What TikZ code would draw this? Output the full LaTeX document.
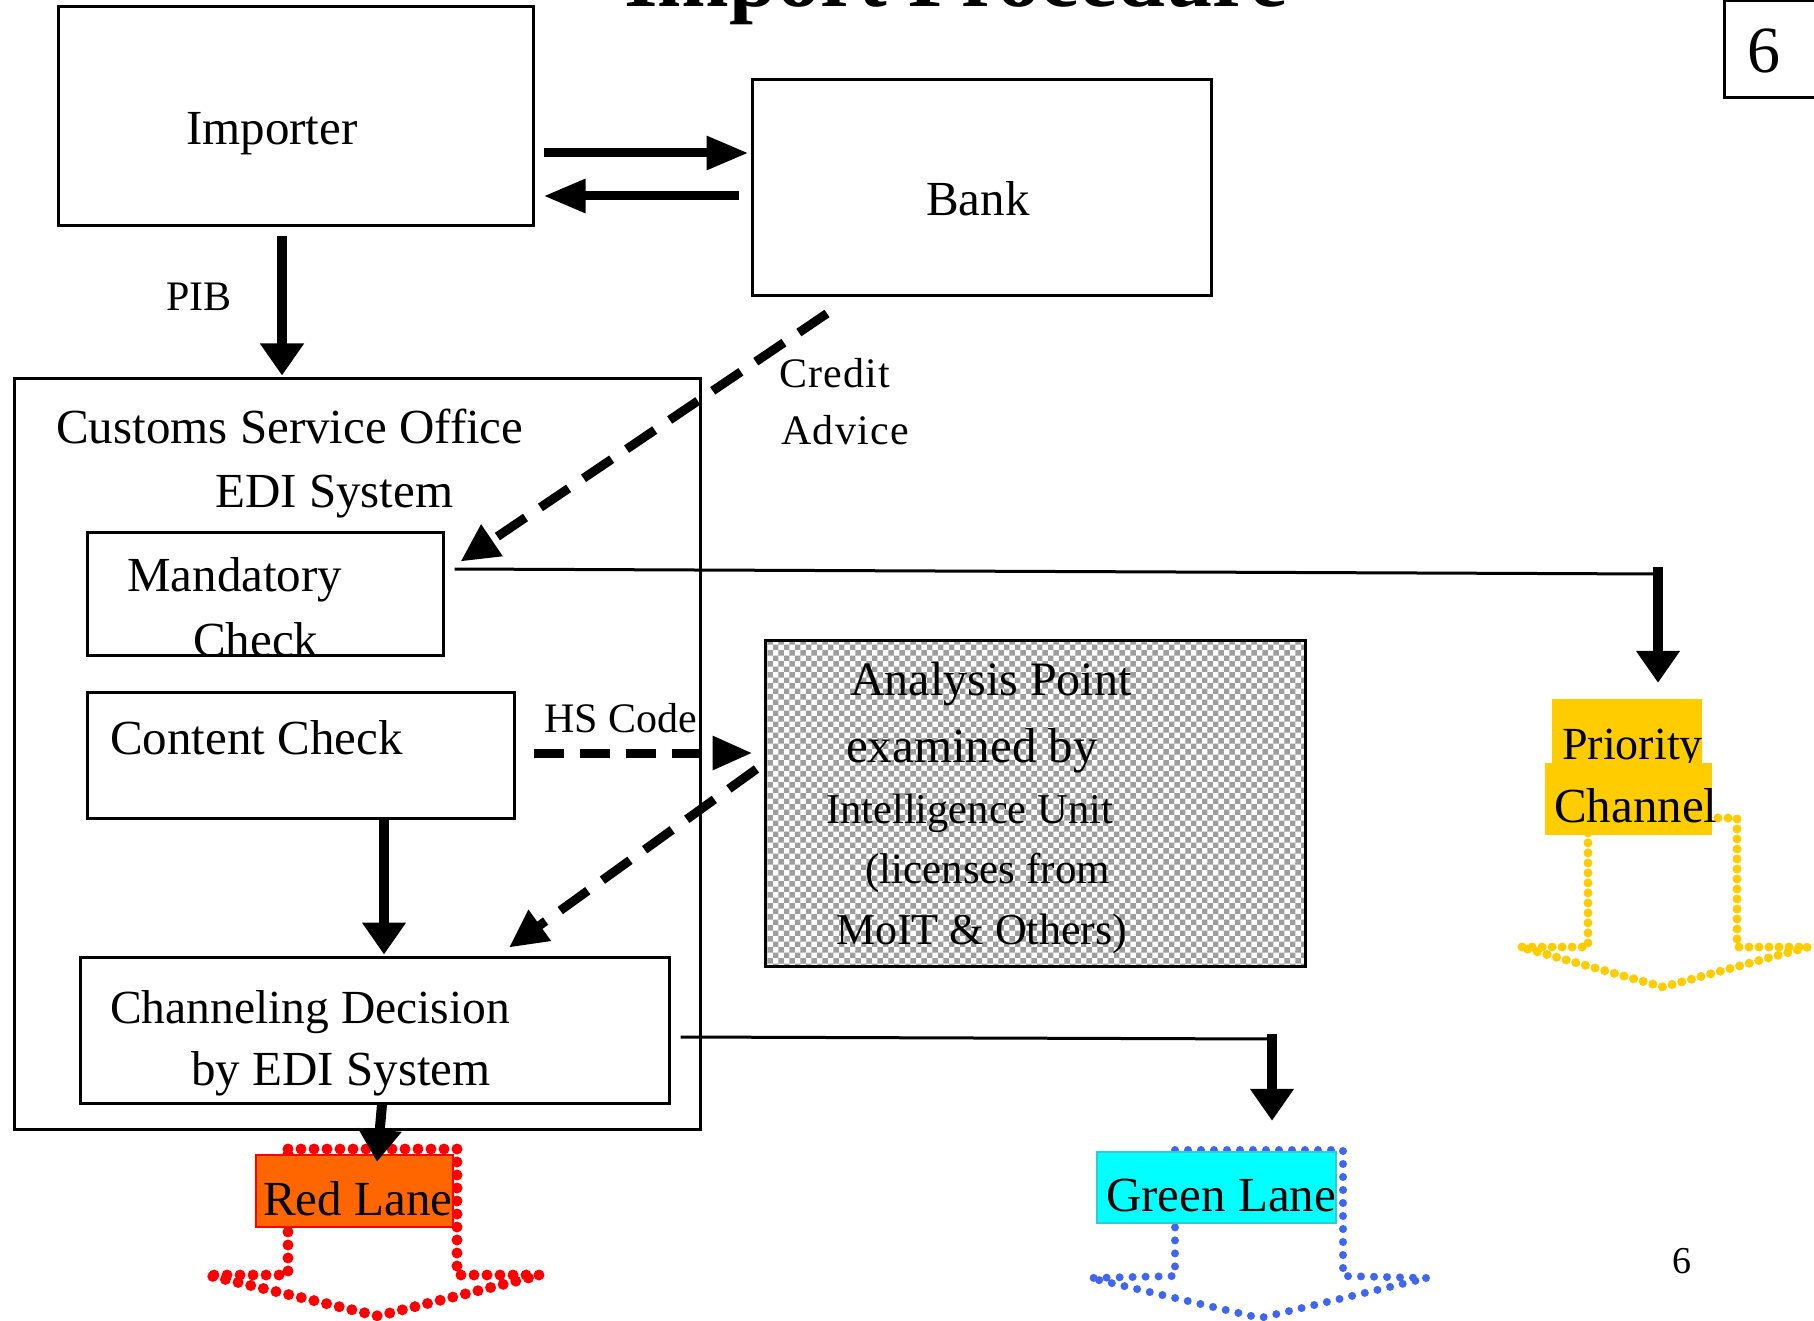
\documentclass[tikz,border=0pt]{standalone}
\usepackage{fontspec}
\setmainfont{Liberation Serif}
\usetikzlibrary{arrows.meta,patterns,calc}

\definecolor{laneorange}{HTML}{FF6600}
\definecolor{lanecyan}{HTML}{00FFFF}
\definecolor{cyanedge}{HTML}{33CCCC}
\definecolor{prioyellow}{HTML}{FFCC00}
\definecolor{dotblue}{HTML}{3F66EE}

\tikzset{
  box/.style={draw, line width=3pt, rectangle, inner sep=0pt},
  txt/.style={anchor=base west, inner sep=0pt, font=\fontsize{49}{58}\selectfont},
  txts/.style={anchor=base west, inner sep=0pt, font=\fontsize{42}{50}\selectfont},
  link/.style={line width=3pt},
  fat/.style={line width=10pt, -{Triangle[length=32pt,width=42pt]}},
  flow/.style={line width=9pt, -{Triangle[length=42pt,width=32pt]}},
  dashflow/.style={line width=9pt, dash pattern=on 34pt off 18pt, -{Triangle[length=38pt,width=36pt]}},
  hsflow/.style={line width=9pt, dash pattern=on 30pt off 16pt, -{Triangle[length=40pt,width=32pt]}},
  lanebox/.style={rectangle, inner sep=0pt},
  dots/.style={line width=#1, line cap=round, line join=round, dash pattern=on 0pt off 13pt},
}

\begin{document}
\begin{tikzpicture}[x=1pt,y=-1pt]
\fill[white] (0,0) rectangle (1814,1321);
\clip (0,0) rectangle (1814,1321);

% heading, partly above the page edge
\node[anchor=base, inner sep=0pt, font=\bfseries\fontsize{86}{100}\selectfont] (title) at (956,7) {Import Procedure};

% slide number boxes
\node[box, minimum width=106pt, minimum height=97pt] (pgbox) at (1777,49.5) {};
\node[anchor=base west, inner sep=0pt, font=\fontsize{66}{78}\selectfont] (pgnum) at (1747,73) {6};
\node[anchor=base west, inner sep=0pt, font=\fontsize{38}{46}\selectfont] (pgfoot) at (1672,1273) {6};

% main boxes
\node[box, minimum width=475pt, minimum height=219pt] (imp) at (295.5,116.5) {};
\node[box, minimum width=459pt, minimum height=216pt] (bank) at (981.5,188) {};
\node[box, minimum width=686pt, minimum height=751pt] (cso) at (357,753.5) {};
\node[box, minimum width=356pt, minimum height=123pt] (mand) at (265,593.5) {};
\node[box, minimum width=427pt, minimum height=126pt] (cont) at (300.5,755) {};
\node[box, minimum width=589pt, minimum height=146pt] (chan) at (374.5,1030) {};
\node[box, minimum width=540pt, minimum height=326pt, pattern=checkerboard, pattern color=black!38] (anal) at (1035,803) {};

\node[txt] (timp) at (186,145) {Importer};
\node[txt] (tbank) at (926,216) {Bank};
\node[txts] (tpib) at (166,311) {PIB};
\node[txt] (tcso1) at (56,443) {Customs Service Office};
\node[txt] (tcso2) at (215,507) {EDI System};
\node[txt] (tmand1) at (127,591) {Mandatory};
\node[txt] (tmand2) at (193,656) {Check};
\node[txt] (tcont) at (110,754) {Content Check};
\node[txts] (ths) at (544,732) {HS Code};
\node[txts, font=\fontsize{42}{50}\selectfont\addfontfeatures{LetterSpace=3}] (tcred1) at (779,387) {Credit};
\node[txts, font=\fontsize{42}{50}\selectfont\addfontfeatures{LetterSpace=3}] (tcred2) at (781,444) {Advice};
\node[txt, font=\fontsize{47.5}{56}\selectfont] (tchan1) at (110,1023) {Channeling Decision};
\node[txt] (tchan2) at (191,1085) {by EDI System};
\node[txt, font=\fontsize{48}{56}\selectfont] (tan1) at (850,695) {Analysis Point};
\node[txt] (tan2) at (846,762) {examined by};
\node[txts, font=\fontsize{42.5}{50}\selectfont] (tan3) at (826,823) {Intelligence Unit};
\node[txts, font=\fontsize{43}{50}\selectfont] (tan4) at (865,883) {(licenses from};
\node[txts, font=\fontsize{44}{52}\selectfont] (tan5) at (836,944) {MoIT \& Others)};

% outlined block arrows under the three channels
\draw[dots=11pt, draw=red] (288,1149) -- (457,1149) -- (457,1275) -- (540,1275) -- (378,1316) -- (207,1275) -- (288,1275) -- cycle;
\draw[dots=8pt, draw=dotblue] (1175,1150) -- (1343,1150) -- (1343,1276) -- (1427,1278) -- (1260,1318) -- (1090,1278) -- (1175,1276) -- cycle;
\draw[dots=9pt, draw=prioyellow, dash pattern=on 0pt off 10pt] (1588,818) -- (1737,818) -- (1737,947) -- (1808,947) -- (1663,987) -- (1520,947) -- (1588,947) -- cycle;

% channel labels
\node[lanebox, draw=red, line width=2.5pt, fill=laneorange, minimum width=197pt, minimum height=72pt] (red) at (354.5,1191) {};
\node[txt] (tred) at (263,1215) {Red Lane};
\node[lanebox, draw=cyanedge, line width=2.5pt, fill=lanecyan, minimum width=239pt, minimum height=71pt] (green) at (1216.5,1187.5) {};
\node[txt] (tgreen) at (1106,1211) {Green Lane};
\node[lanebox, fill=prioyellow, minimum width=150pt, minimum height=64pt] (prio1) at (1627,731) {};
\node[txt, font=\fontsize{46}{56}\selectfont] (tprio1) at (1562,759) {Priority};
\node[lanebox, fill=prioyellow, minimum width=167pt, minimum height=72pt] (prio2) at (1628.5,799) {};
\node[txt] (tprio2) at (1554,822) {Channel};

% connectors
\draw[flow] ([xshift=9pt,yshift=-36.5pt]imp.east) -- ([xshift=-2pt,yshift=35pt]bank.west);
\draw[flow] ([xshift=-12pt,yshift=-8pt]bank.west) -- ([xshift=9pt,yshift=-79.5pt]imp.east);
\draw[fat] ([xshift=-13.5pt,yshift=-9pt]imp.south) -- ([xshift=-75pt,yshift=1pt]cso.north);
\draw[dashflow] ([xshift=-154.5pt,yshift=-16pt]bank.south) -- ([xshift=16pt,yshift=-31pt]mand.north east);

\coordinate (pcorner) at (1658,574);
\draw[link] ([xshift=10pt,yshift=24.5pt]mand.east) -- (pcorner);
\draw[fat] ([yshift=7pt]pcorner) -- ([xshift=31pt,yshift=16pt]prio1.north);

\draw[hsflow] ([xshift=18pt,yshift=2pt]cont.east) -- ([xshift=-11pt,yshift=50pt]anal.west);
\draw[dashflow] ([xshift=-7pt,yshift=34pt]anal.west) -- ([xshift=134.5pt,yshift=8pt]chan.north);
\draw[fat] ([xshift=83.5pt]cont.south) -- ([xshift=9.5pt,yshift=1pt]chan.north);

\coordinate (gcorner) at (1272,1039);
\draw[link] ([xshift=10pt,yshift=-7pt]chan.east) -- (gcorner);
\draw[fat] ([yshift=5pt]gcorner) -- ([xshift=55.5pt,yshift=30pt]green.north);
\draw[fat] ([xshift=7.5pt]chan.south) -- ([xshift=22.5pt,yshift=-8pt]red.north);
\end{tikzpicture}
\end{document}
